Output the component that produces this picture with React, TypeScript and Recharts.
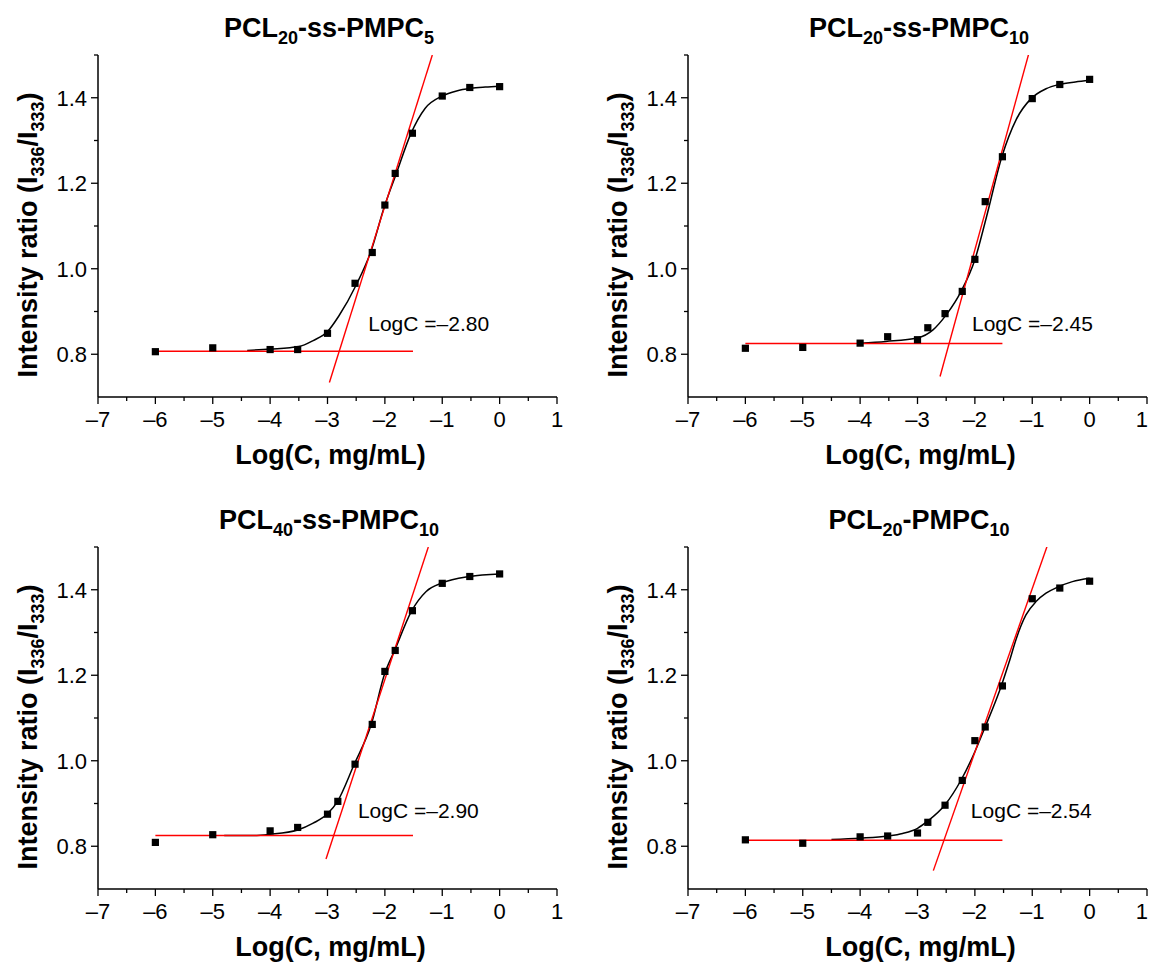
import React from 'react';
import { ComposedChart, Line, Scatter, XAxis, YAxis, Label, ReferenceDot } from 'recharts';

const FONT = '"Liberation Sans", Arial, Helvetica, sans-serif';

// ---- axes ----
const xTicks = [-7, -6.5, -6, -5.5, -5, -4.5, -4, -3.5, -3, -2.5, -2, -1.5, -1, -0.5, 0, 0.5, 1];
const xMajor = [-7, -6, -5, -4, -3, -2, -1, 0, 1];
const xMajorLabels = ['–7', '–6', '–5', '–4', '–3', '–2', '–1', '0', '1'];
const yTicks = [0.8, 0.9, 1.0, 1.1, 1.2, 1.3, 1.4, 1.5];
const yMajor = [0.8, 1.0, 1.2, 1.4];
const yMajorLabels = ['0.8', '1.0', '1.2', '1.4'];

// ---- measured points: log concentration ----
const logC13 = [-6, -5, -4, -3.52, -3, -2.52, -2.22, -2, -1.82, -1.52, -1, -0.52, 0];
const logC14 = [-6, -5, -4, -3.52, -3, -2.82, -2.52, -2.22, -2, -1.82, -1.52, -1, -0.52, 0];

// ---- intensity ratios ----
const ratioA = [0.806, 0.815, 0.811, 0.811, 0.849, 0.966, 1.038, 1.149, 1.223, 1.317, 1.404, 1.424, 1.426];
const ratioB = [0.814, 0.816, 0.826, 0.841, 0.834, 0.862, 0.895, 0.947, 1.022, 1.157, 1.262, 1.398, 1.431, 1.443];
const ratioC = [0.809, 0.827, 0.836, 0.844, 0.875, 0.905, 0.992, 1.085, 1.209, 1.258, 1.351, 1.415, 1.431, 1.437];
const ratioD = [0.815, 0.807, 0.822, 0.824, 0.831, 0.856, 0.896, 0.954, 1.047, 1.079, 1.175, 1.379, 1.404, 1.420];

// ---- fitted curves ----
const fitAx = [-4.4, -4, -3.5, -3.25, -3, -2.8, -2.5, -2.25, -2, -1.8, -1.55, -1.3, -1, -0.75, -0.5, -0.25, 0];
const fitAy = [0.809, 0.812, 0.818, 0.832, 0.853, 0.89, 0.962, 1.038, 1.149, 1.223, 1.315, 1.375, 1.404, 1.416, 1.422, 1.425, 1.427];
const fitBx = [-4, -3.55, -3, -2.73, -2.5, -2.24, -2, -1.8, -1.53, -1.28, -1.02, -0.76, -0.53, -0.25, 0];
const fitBy = [0.826, 0.83, 0.838, 0.857, 0.892, 0.947, 1.021, 1.12, 1.262, 1.349, 1.398, 1.421, 1.431, 1.437, 1.441];
const fitCx = [-4.8, -4.3, -4, -3.52, -3.25, -3, -2.83, -2.54, -2.24, -2, -1.83, -1.54, -1.28, -1, -0.52, 0];
const fitCy = [0.825, 0.825, 0.828, 0.838, 0.854, 0.876, 0.904, 0.99, 1.084, 1.205, 1.258, 1.349, 1.396, 1.416, 1.431, 1.437];
const fitDx = [-4.5, -4, -3.52, -3.26, -3, -2.83, -2.52, -2.24, -2, -1.83, -1.54, -1.4, -1.28, -1.11, -0.93, -0.76, -0.56, -0.3, 0];
const fitDy = [0.816, 0.819, 0.824, 0.83, 0.842, 0.858, 0.897, 0.955, 1.021, 1.076, 1.175, 1.232, 1.285, 1.341, 1.373, 1.392, 1.406, 1.419, 1.427];

// ---- red tangent lines (end points) ----
const baseAx = [-6, -1.51]; const baseAy = [0.807, 0.807];
const slopeAx = [-2.967, -1.173]; const slopeAy = [0.734, 1.5];
const baseBx = [-6, -1.52]; const baseBy = [0.825, 0.825];
const slopeBx = [-2.607, -1.063]; const slopeBy = [0.748, 1.502];
const baseCx = [-6, -1.51]; const baseCy = [0.825, 0.825];
const slopeCx = [-3.026, -1.243]; const slopeCy = [0.77, 1.5];
const baseDx = [-6, -1.52]; const baseDy = [0.814, 0.814];
const slopeDx = [-2.724, -0.743]; const slopeDy = [0.743, 1.501];

// ---- annotations ----
const noteText = ['LogC =–2.80', 'LogC =–2.45', 'LogC =–2.90', 'LogC =–2.54'];
const noteX = [-2.29, -2.05, -2.47, -2.07];
const noteY = [0.855, 0.855, 0.865, 0.865];

// ---- titles: [main, sub, main, sub] ----
const titleA = ['PCL', '20', '-ss-PMPC', '5'];
const titleB = ['PCL', '20', '-ss-PMPC', '10'];
const titleC = ['PCL', '40', '-ss-PMPC', '10'];
const titleD = ['PCL', '20', '-PMPC', '10'];

const zip = (xs: number[], ys: number[]) => xs.map((x, i) => ({ x, y: ys[i] }));

const XTick = (props: any) => {
  const { x, y, payload, maxX } = props;
  const v = payload.value;
  const idx = xMajor.findIndex((m) => Math.abs(m - v) < 1e-6);
  const major = idx >= 0;
  const clamp = maxX != null && x + 6 > maxX;
  return (
    <g>
      <line x1={x} y1={y} x2={x} y2={y + (major ? 7 : 4)} stroke="#000" strokeWidth={1.3} />
      {major && (
        <text
          x={clamp ? maxX : x}
          y={y + 30}
          textAnchor={clamp ? 'end' : 'middle'}
          fontSize={22}
          fontFamily={FONT}
          fill="#000"
        >
          {xMajorLabels[idx]}
        </text>
      )}
    </g>
  );
};

const YTick = (props: any) => {
  const { x, y, payload } = props;
  const v = payload.value;
  const idx = yMajor.findIndex((m) => Math.abs(m - v) < 1e-6);
  const major = idx >= 0;
  return (
    <g>
      <line x1={x - (major ? 7 : 4)} y1={y} x2={x} y2={y} stroke="#000" strokeWidth={1.3} />
      {major && (
        <text x={x - 11} y={y + 8} textAnchor="end" fontSize={22} fontFamily={FONT} fill="#000">
          {yMajorLabels[idx]}
        </text>
      )}
    </g>
  );
};

const Square = (props: any) => {
  const { cx, cy } = props;
  if (cx == null || cy == null) return null;
  return <rect x={cx - 3.6} y={cy - 3.6} width={7.2} height={7.2} fill="#000" />;
};

type PanelProps = {
  left: number;
  top: number;
  title: string[];
  xs: number[];
  ys: number[];
  fx: number[];
  fy: number[];
  bx: number[];
  by: number[];
  sx: number[];
  sy: number[];
  idx: number;
  maxX?: number;
};

const Panel = ({ left, top, title, xs, ys, fx, fy, bx, by, sx, sy, idx, maxX }: PanelProps) => {
  const points = zip(xs, ys);
  const fit = zip(fx, fy);
  const base = zip(bx, by);
  const slope = zip(sx, sy);

  const yLabel = (p: any) => {
    const vb = p.viewBox || {};
    const plotLeft = vb.x + vb.width;
    const bx0 = plotLeft - 61;
    const cy0 = vb.y + 180;
    const tx = plotLeft + 231;
    const ty = vb.y - 18;
    return (
      <g>
        <text
          transform={`translate(${bx0},${cy0}) rotate(-90)`}
          textAnchor="middle"
          fontSize={27}
          fontWeight="bold"
          fontFamily={FONT}
          fill="#000"
        >
          Intensity ratio (I<tspan fontSize={18} dy={7}>336</tspan>
          <tspan dy={-7}>/I</tspan>
          <tspan fontSize={18} dy={7}>333</tspan>
          <tspan dy={-7}>)</tspan>
        </text>
        <text x={tx} y={ty} textAnchor="middle" fontSize={27} fontWeight="bold" fontFamily={FONT} fill="#000">
          {title[0]}
          <tspan fontSize={18} dy={7}>{title[1]}</tspan>
          <tspan dy={-7}>{title[2]}</tspan>
          <tspan fontSize={18} dy={7}>{title[3]}</tspan>
        </text>
      </g>
    );
  };

  const xLabel = (p: any) => {
    const vb = p.viewBox || {};
    return (
      <text
        x={vb.x + vb.width / 2 + 3}
        y={vb.y + 67}
        textAnchor="middle"
        fontSize={27}
        fontWeight="bold"
        fontFamily={FONT}
        fill="#000"
      >
        Log(C, mg/mL)
      </text>
    );
  };

  const note = (p: any) => (
    <text x={p.cx} y={p.cy} fontSize={21} fontFamily={FONT} fill="#000">
      {noteText[idx]}
    </text>
  );

  return (
    <div style={{ position: 'absolute', left, top, width: 580, height: 490 }}>
      <ComposedChart width={580} height={490} margin={{ top: 55, right: 23, bottom: 33, left: 38 }}>
        <XAxis
          type="number"
          dataKey="x"
          domain={[-7, 1]}
          allowDataOverflow
          ticks={xTicks}
          interval={0}
          tickSize={0}
          tickMargin={0}
          tickLine={false}
          tick={<XTick maxX={maxX} />}
          axisLine={{ stroke: '#000', strokeWidth: 1.5 }}
          height={60}
        >
          <Label content={xLabel} />
        </XAxis>
        <YAxis
          type="number"
          dataKey="y"
          domain={[0.7, 1.5]}
          allowDataOverflow
          ticks={yTicks}
          interval={0}
          tickSize={0}
          tickMargin={0}
          tickLine={false}
          tick={<YTick />}
          axisLine={{ stroke: '#000', strokeWidth: 1.5 }}
          width={60}
        >
          <Label content={yLabel} />
        </YAxis>
        <Line
          data={fit}
          dataKey="y"
          type="monotone"
          stroke="#000"
          strokeWidth={1.5}
          dot={false}
          activeDot={false}
          isAnimationActive={false}
        />
        <Line
          data={base}
          dataKey="y"
          type="linear"
          stroke="#ff0000"
          strokeWidth={1.4}
          dot={false}
          activeDot={false}
          isAnimationActive={false}
        />
        <Line
          data={slope}
          dataKey="y"
          type="linear"
          stroke="#ff0000"
          strokeWidth={1.4}
          dot={false}
          activeDot={false}
          isAnimationActive={false}
        />
        <Scatter data={points} dataKey="y" fill="#000" shape={<Square />} isAnimationActive={false} />
        <ReferenceDot x={noteX[idx]} y={noteY[idx]} r={0} shape={note} />
      </ComposedChart>
    </div>
  );
};

export default function App() {
  return (
    <div
      style={{
        position: 'absolute',
        left: 0,
        top: 0,
        width: 1149,
        height: 967,
        overflow: 'hidden',
        background: '#fff',
      }}
    >
      <Panel left={0} top={0} title={titleA} xs={logC13} ys={ratioA} fx={fitAx} fy={fitAy} bx={baseAx} by={baseAy} sx={slopeAx} sy={slopeAy} idx={0} />
      <Panel left={590} top={0} title={titleB} xs={logC14} ys={ratioB} fx={fitBx} fy={fitBy} bx={baseBx} by={baseBy} sx={slopeBx} sy={slopeBy} idx={1} maxX={558} />
      <Panel left={0} top={492} title={titleC} xs={logC14} ys={ratioC} fx={fitCx} fy={fitCy} bx={baseCx} by={baseCy} sx={slopeCx} sy={slopeCy} idx={2} />
      <Panel left={590} top={492} title={titleD} xs={logC14} ys={ratioD} fx={fitDx} fy={fitDy} bx={baseDx} by={baseDy} sx={slopeDx} sy={slopeDy} idx={3} maxX={558} />
    </div>
  );
}
